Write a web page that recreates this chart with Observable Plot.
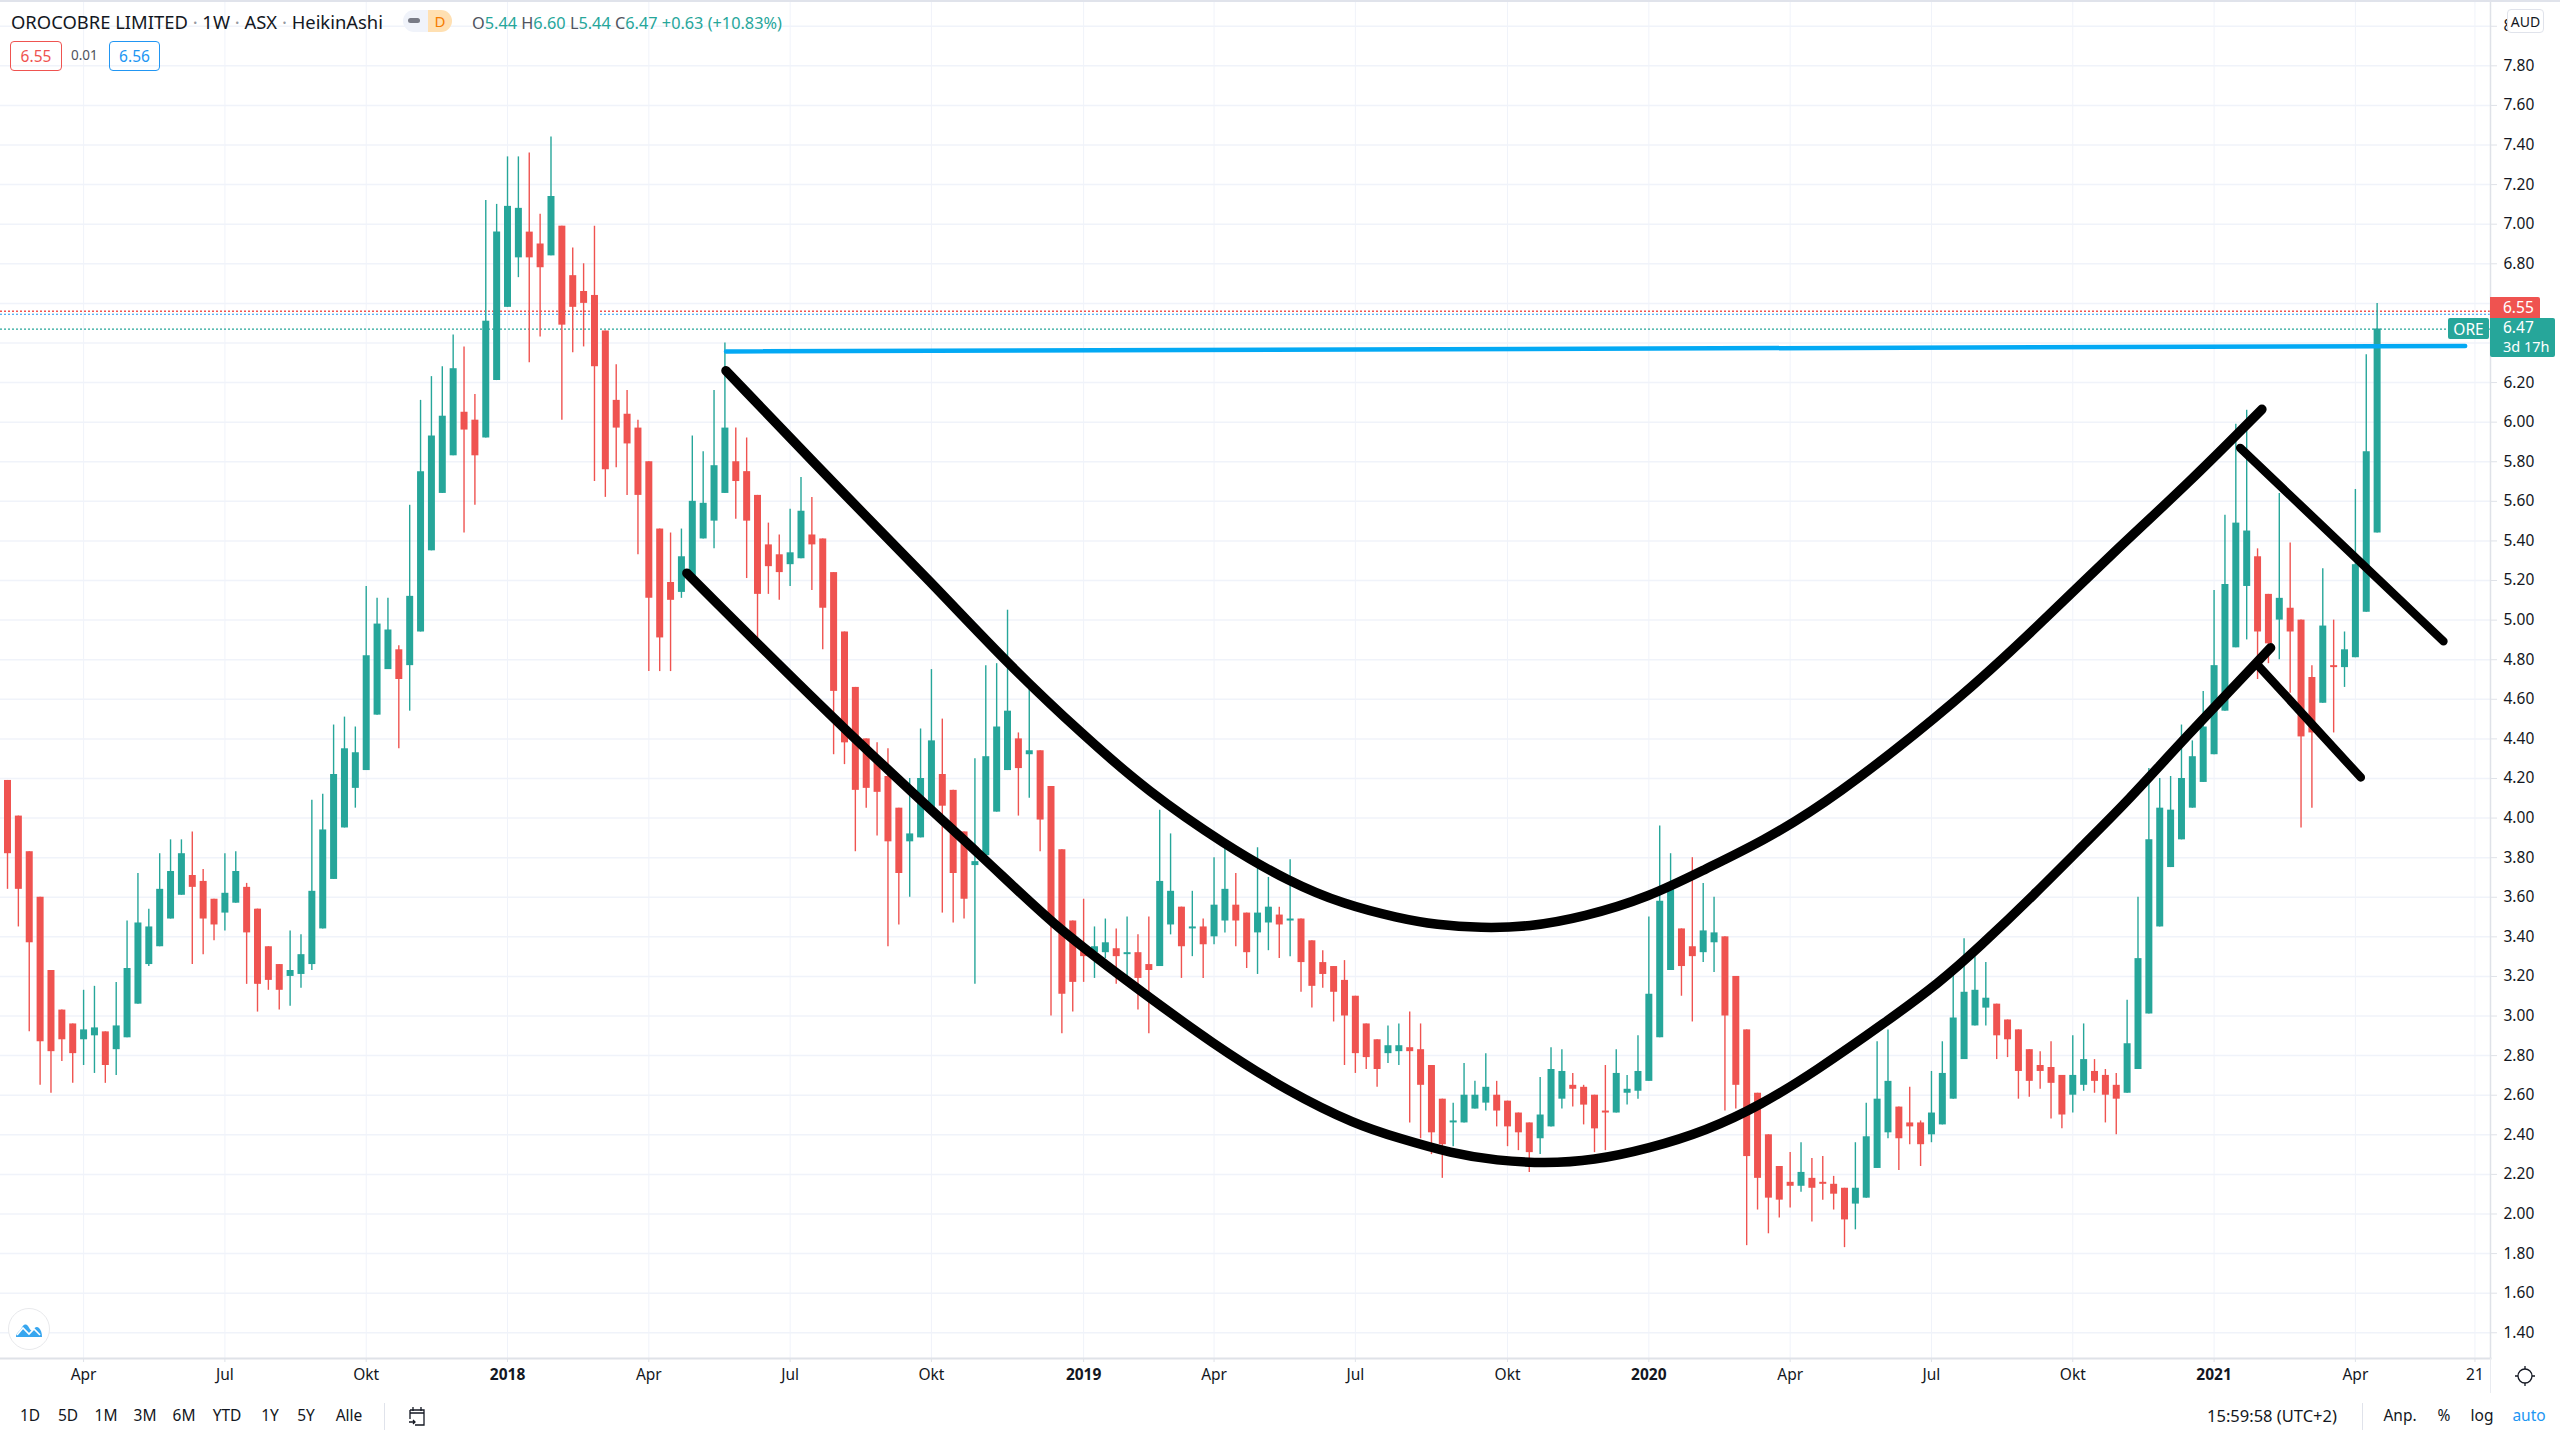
<!DOCTYPE html>
<html>
<head>
<meta charset="utf-8">
<script src="https://cdn.jsdelivr.net/npm/d3@7"></script>
<script src="https://cdn.jsdelivr.net/npm/@observablehq/plot@0.6"></script>
<style>
html,body{margin:0;padding:0;background:#fff;}
#wrap{position:relative;width:2560px;height:1440px;overflow:hidden;font-family:"Noto Sans",sans-serif;color:#131722;}
#wrap svg{display:block;}
.o{position:absolute;white-space:nowrap;line-height:1;}
.box{position:absolute;box-sizing:border-box;display:flex;align-items:center;justify-content:center;}
.c{transform:translateX(-50%);}
</style>
</head>
<body>
<div id="wrap"></div>
<script>
// Weekly Heikin-Ashi candles, one entry per week (AUD)
const rising = [0,0,0,0,0,0,0,1,1,0, 1,1,1,1,1,1,1,0,0,0, 1,1,0,0,0,0,1,1,1,1, 1,1,1,1,1,1,0,1,1,1,
 1,1,0,0,1,1,1,1,0,0, 1,0,0,0,0,0,0,0,0,0, 0,0,1,1,1,1,1,0,0,0, 0,0,1,1,0,0,0,0,0,0,
 0,0,0,1,1,1,0,0,0,1, 1,1,1,0,1,0,0,0,0,0, 1,1,0,1,0,0,1,1,0,1, 0,1,1,0,0,1,1,0,1,0,
 0,0,0,0,0,0,0,1,1,0, 0,0,0,1,1,1,1,0,0,0, 0,1,1,1,0,0,0,0,1,1, 1,1,1,1,0,0,1,1,0,0,
 0,0,0,0,0,1,0,0,0,0, 1,1,1,1,0,0,0,1,1,1, 1,1,1,0,0,0,0,0,0,0, 1,1,0,0,0,1,1,1,1,1,
 1,1,1,1,1,1,1,0,0,1, 0,0,0,1,0,1,1,1,1];
const bodyTop = [4.19,4.01,3.83,3.60,3.23,3.03,2.96,2.93,2.94,2.92, 2.95,3.24,3.47,3.45,3.64,3.73,3.82,3.71,3.68,3.59,
 3.62,3.73,3.65,3.54,3.35,3.26,3.23,3.31,3.63,3.94, 4.22,4.35,4.33,4.82,4.98,4.95,4.85,5.12,5.75,5.93,
 6.03,6.27,6.05,6.01,6.51,6.96,7.09,7.08,6.96,6.90, 7.14,6.99,6.74,6.66,6.64,6.46,6.11,6.04,5.97,5.80,
 5.46,5.19,5.32,5.60,5.59,5.78,5.97,5.80,5.75,5.63, 5.38,5.33,5.34,5.55,5.43,5.41,5.24,4.94,4.66,4.40,
 4.28,4.21,4.05,3.92,4.20,4.39,4.22,4.14,3.93,3.78, 4.31,4.46,4.54,4.40,4.34,4.34,4.16,3.84,3.48,3.34,
 3.35,3.37,3.34,3.32,3.32,3.26,3.68,3.63,3.55,3.45, 3.45,3.56,3.64,3.56,3.52,3.52,3.55,3.51,3.49,3.49,
 3.38,3.27,3.25,3.18,3.10,2.96,2.88,2.85,2.85,2.84, 2.83,2.75,2.58,2.47,2.60,2.60,2.64,2.60,2.57,2.51,
 2.46,2.50,2.73,2.72,2.65,2.64,2.60,2.52,2.71,2.63, 2.72,3.11,3.58,3.64,3.44,3.35,3.43,3.42,3.40,3.20,
 2.93,2.61,2.40,2.24,2.16,2.21,2.18,2.16,2.15,2.13, 2.13,2.39,2.58,2.67,2.54,2.46,2.46,2.51,2.71,2.99,
 3.12,3.13,3.09,3.06,2.98,2.93,2.83,2.75,2.74,2.70, 2.70,2.78,2.72,2.70,2.65,2.86,3.29,3.89,4.05,4.04,
 4.20,4.31,4.46,4.77,5.18,5.49,5.45,5.32,5.13,5.11, 5.06,5.00,4.71,4.97,4.77,4.85,5.28,5.85,6.47];
const bodyBottom = [3.82,3.64,3.37,2.87,2.82,2.88,2.81,2.88,2.90,2.75, 2.83,2.89,3.06,3.26,3.35,3.49,3.61,3.65,3.49,3.46,
 3.52,3.57,3.42,3.16,3.18,3.13,3.20,3.21,3.26,3.44, 3.69,3.95,4.15,4.24,4.52,4.75,4.70,4.77,4.94,5.35,
 5.64,5.83,5.96,5.83,5.92,6.21,6.58,6.83,6.83,6.78, 6.84,6.49,6.58,6.60,6.28,5.76,5.97,5.89,5.63,5.11,
 4.91,5.10,5.14,5.22,5.41,5.50,5.64,5.70,5.50,5.13, 5.27,5.24,5.28,5.31,5.38,5.06,4.64,4.38,4.14,4.15,
 4.13,3.88,3.72,3.88,3.90,4.05,4.06,3.72,3.59,3.76, 3.81,4.03,4.24,4.25,4.32,3.99,3.47,3.11,3.17,3.30,
 3.32,3.32,3.30,3.31,3.19,3.23,3.25,3.46,3.35,3.44, 3.36,3.40,3.48,3.48,3.32,3.42,3.47,3.46,3.48,3.27,
 3.15,3.21,3.12,3.00,2.81,2.79,2.73,2.81,2.82,2.82, 2.65,2.41,2.35,2.46,2.46,2.53,2.56,2.52,2.44,2.41,
 2.31,2.38,2.44,2.58,2.63,2.55,2.43,2.51,2.51,2.61, 2.62,2.67,2.89,3.23,3.25,3.30,3.32,3.37,3.00,2.65,
 2.29,2.18,2.08,2.07,2.14,2.14,2.13,2.15,2.10,1.97, 2.05,2.08,2.23,2.41,2.38,2.44,2.35,2.40,2.45,2.58,
 2.78,2.95,3.04,2.90,2.88,2.72,2.67,2.72,2.66,2.50, 2.60,2.65,2.67,2.60,2.58,2.61,2.73,3.01,3.45,3.75,
 3.89,4.05,4.18,4.32,4.54,4.86,5.17,4.94,4.88,5.00, 4.94,4.41,4.43,4.58,4.76,4.76,4.81,5.04,5.44];
const wickHigh = [4.19,4.01,3.83,3.60,3.23,3.03,2.96,3.13,3.15,2.92, 3.17,3.48,3.72,3.54,3.82,3.89,3.89,3.93,3.74,3.59,
 3.82,3.83,3.67,3.54,3.35,3.26,3.43,3.41,4.09,4.12, 4.47,4.51,4.46,5.17,5.11,5.11,4.87,5.58,6.11,6.23,
 6.28,6.44,6.38,6.14,7.12,7.10,7.34,7.34,7.36,7.05, 7.44,6.99,6.88,6.80,6.99,6.46,6.29,6.16,6.01,5.80,
 5.46,5.44,5.46,5.93,5.85,6.16,6.40,5.97,5.92,5.63, 5.49,5.43,5.56,5.72,5.62,5.41,5.24,4.94,4.66,4.40,
 4.38,4.35,4.05,4.20,4.45,4.75,4.50,4.14,3.93,4.30, 4.77,4.78,5.05,4.43,4.65,4.34,4.16,3.84,3.48,3.59,
 3.45,3.49,3.44,3.50,3.41,3.50,4.04,3.92,3.55,3.63, 3.49,3.80,3.87,3.72,3.52,3.85,3.70,3.55,3.79,3.49,
 3.38,3.33,3.25,3.28,3.10,2.96,2.88,2.95,2.96,3.02, 2.96,2.75,2.58,2.56,2.76,2.67,2.81,2.67,2.57,2.51,
 2.46,2.69,2.84,2.83,2.71,2.65,2.60,2.75,2.83,2.70, 2.90,3.50,3.96,3.82,3.44,3.80,3.67,3.60,3.40,3.20,
 2.93,2.61,2.40,2.24,2.31,2.36,2.28,2.29,2.19,2.13, 2.36,2.56,2.87,2.93,2.54,2.64,2.47,2.72,2.87,3.22,
 3.39,3.30,3.27,3.06,2.98,2.93,2.83,2.82,2.87,2.70, 2.90,2.96,2.78,2.73,2.71,3.08,3.60,4.25,4.20,4.21,
 4.47,4.39,4.64,5.15,5.53,5.99,6.06,5.36,5.13,5.64, 5.39,5.00,4.77,5.26,5.00,4.94,5.66,6.34,6.60];
const wickLow = [3.64,3.45,2.92,2.65,2.61,2.77,2.66,2.75,2.71,2.66, 2.70,2.89,3.06,3.25,3.35,3.49,3.61,3.26,3.31,3.38,
 3.43,3.57,3.16,3.02,3.13,3.03,3.05,3.14,3.23,3.44, 3.69,3.95,4.05,4.24,4.52,4.75,4.35,4.54,4.94,5.35,
 5.64,5.83,5.44,5.58,5.92,6.21,6.58,6.73,6.30,6.43, 6.84,6.01,6.35,6.38,5.70,5.62,5.77,5.63,5.33,4.74,
 4.74,4.74,5.11,5.22,5.41,5.36,5.64,5.51,5.21,4.90, 5.13,5.10,5.17,5.31,5.15,4.85,4.32,4.27,3.83,4.05,
 3.91,3.35,3.46,3.60,3.90,4.05,3.52,3.47,3.49,3.16, 3.81,4.03,4.24,4.01,4.10,3.83,3.00,2.91,3.02,3.17,
 3.19,3.29,3.16,3.18,3.03,2.91,3.25,3.41,3.19,3.30, 3.19,3.36,3.42,3.35,3.24,3.21,3.33,3.29,3.30,3.12,
 3.04,3.14,2.97,2.75,2.71,2.73,2.64,2.76,2.75,2.46, 2.38,2.30,2.18,2.34,2.46,2.53,2.52,2.44,2.34,2.32,
 2.21,2.30,2.44,2.53,2.54,2.45,2.31,2.32,2.51,2.55, 2.58,2.67,2.89,3.23,3.10,2.97,3.27,3.22,2.52,2.53,
 1.84,2.02,1.90,1.98,2.03,2.11,1.96,2.07,2.02,1.83, 1.92,2.08,2.23,2.38,2.22,2.35,2.24,2.36,2.45,2.58,
 2.78,2.95,2.95,2.78,2.79,2.58,2.59,2.63,2.48,2.43, 2.51,2.62,2.61,2.46,2.40,2.61,2.73,3.01,3.45,3.75,
 3.89,4.05,4.18,4.32,4.54,4.86,4.90,4.70,4.78,4.80, 4.63,3.95,4.05,4.58,4.43,4.66,4.81,5.04,5.44];

// Axis ticks (week index of each label)
const monthTicks = [7,20,33,59,72,85,111,124,138,164,177,190,216,227];
const monthLabels = ["Apr","Jul","Okt","Apr","Jul","Okt","Apr","Jul","Okt","Apr","Jul","Okt","Apr","21"];
const yearTicks = [46,99,151,203];
const yearLabels = ["2018","2019","2020","2021"];
const priceTicks = [1.4,1.6,1.8,2.0,2.2,2.4,2.6,2.8,3.0,3.2,3.4,3.6,3.8,4.0,4.2,4.4,4.6,4.8,5.0,5.2,5.4,5.6,5.8,6.0,6.2,6.4,6.6,6.8,7.0,7.2,7.4,7.6,7.8,8.0];
const hiddenPriceLabels = [6.4,6.6]; // covered by the last-price tags in the reference

// Hand-drawn trendlines, read as week index / price pairs
const upperBowlWeek  = [66.1,77.8,85,92,99,104.9,112,118,122.9,127.9,131.5,135.5,140,145,151,156.3,161.3,167.8,179.7,186.7,193.7,200.8,207.4];
const upperBowlPrice = [6.26,5.588,5.19,4.78,4.417,4.135,3.865,3.675,3.565,3.495,3.46,3.445,3.45,3.50,3.60,3.745,3.878,4.089,4.605,4.966,5.34,5.70,6.065];
const lowerBowlWeek  = [62.5,77.8,90.4,96.1,102.9,111.1,117.9,124.1,127.9,132.9,137,141.4,145.9,151,156.3,161.3,166.3,172.8,177.8,181.4,186.4,191.4,195.1,199.9,208.2];
const lowerBowlPrice = [5.237,4.40,3.77,3.465,3.18,2.85,2.616,2.45,2.385,2.305,2.27,2.255,2.27,2.33,2.42,2.55,2.72,2.969,3.171,3.348,3.61,3.887,4.089,4.38,4.86];
const upperHandleWeek = [205.4,224.1];
const upperHandlePrice = [5.87,4.893];
const lowerHandleWeek = [207.1,216.5];
const lowerHandlePrice = [4.768,4.205];
const rimWeek = [66.1,226.1];
const rimPrice = [6.357,6.385];
const bid = 6.56, ask = 6.545, last = 6.47;

const candles = rising.map((r,i)=>({i, dir: r ? "up" : "down", top: bodyTop[i], bottom: bodyBottom[i], high: wickHigh[i], low: wickLow[i]}));
const pts = (w,p)=>w.map((x,k)=>({x, y:p[k]}));
const labelOf = (t,l)=>{const m=new Map(t.map((v,k)=>[v,l[k]]));return d=>m.get(d);};

const UP="#26a69a", DOWN="#ef5350", GRID="#f0f3fa", AXIS="#dfe2e8", INK="#131722", FONT='"Noto Sans",sans-serif';

const chart = Plot.plot({
  width:2560, height:1440,
  marginLeft:0, marginRight:70, marginTop:0, marginBottom:82,
  style:{background:"#fff", fontFamily:FONT},
  x:{type:"linear", domain:[-0.644,228.43]},
  y:{type:"linear", domain:[1.27,8.13]},
  color:{domain:["up","down"], range:[UP,DOWN]},
  marks:[
    Plot.ruleY(priceTicks,{stroke:GRID,strokeWidth:1.5}),
    Plot.ruleX([...monthTicks,...yearTicks],{stroke:GRID,strokeWidth:1}),
    Plot.ruleY([last],{stroke:UP,strokeWidth:1.3,strokeDasharray:"2,2"}),
    Plot.ruleY([ask],{stroke:"#2196f3",strokeWidth:1,strokeDasharray:"2,2"}),
    Plot.ruleY([bid],{stroke:DOWN,strokeWidth:1.5,strokeDasharray:"2,2"}),
    Plot.ruleX(candles,{x:"i",y1:"low",y2:"high",stroke:"dir",strokeWidth:1.4}),
    Plot.ruleX(candles,{x:"i",y1:"bottom",y2:"top",stroke:"dir",strokeWidth:7,strokeLinecap:"butt"}),
    Plot.line(pts(rimWeek,rimPrice),{x:"x",y:"y",stroke:"#03a9f4",strokeWidth:4.5,strokeLinecap:"round"}),
    Plot.line(pts(upperBowlWeek,upperBowlPrice),{x:"x",y:"y",curve:"basis",stroke:"#000",strokeWidth:9.5,strokeLinecap:"round"}),
    Plot.line(pts(lowerBowlWeek,lowerBowlPrice),{x:"x",y:"y",curve:"basis",stroke:"#000",strokeWidth:9.5,strokeLinecap:"round"}),
    Plot.line(pts(upperHandleWeek,upperHandlePrice),{x:"x",y:"y",stroke:"#000",strokeWidth:8.5,strokeLinecap:"round"}),
    Plot.line(pts(lowerHandleWeek,lowerHandlePrice),{x:"x",y:"y",stroke:"#000",strokeWidth:8.5,strokeLinecap:"round"}),
    Plot.frame({anchor:"right",stroke:AXIS,strokeWidth:1.5}),
    Plot.frame({anchor:"bottom",stroke:AXIS,strokeWidth:2}),
    Plot.axisY(priceTicks,{anchor:"right",label:null,tickSize:6,tickPadding:7,stroke:AXIS,fill:INK,fontSize:15.5,tickFormat:d=>hiddenPriceLabels.includes(d)?"":d.toFixed(2)}),
    Plot.axisX(monthTicks,{anchor:"bottom",label:null,tickSize:4,tickPadding:6,stroke:AXIS,fill:INK,fontSize:15.5,tickFormat:labelOf(monthTicks,monthLabels)}),
    Plot.axisX(yearTicks,{anchor:"bottom",label:null,tickSize:4,tickPadding:6,stroke:AXIS,fill:INK,fontSize:15.5,fontWeight:700,tickFormat:labelOf(yearTicks,yearLabels)})
  ]
});
const wrap=document.getElementById("wrap");
wrap.appendChild(chart);

function add(html){const t=document.createElement("template");t.innerHTML=html.trim();wrap.appendChild(t.content.firstChild);}
// top border, axis tail, separators
add(`<div class="o" style="left:0;top:0;width:2560px;height:2px;background:#e0e3eb"></div>`);
add(`<div class="o" style="left:2490px;top:1358px;width:1px;height:35px;background:#e9ebf0"></div>`);
add(`<div class="o" style="left:384px;top:1403px;width:1px;height:27px;background:#e0e3eb"></div>`);
add(`<div class="o" style="left:2362px;top:1403px;width:1px;height:27px;background:#e0e3eb"></div>`);
// legend
add(`<div class="o" style="left:11px;top:13px;font-size:18.4px;color:${INK}">OROCOBRE LIMITED <span style="color:#9598a1">·</span> 1W <span style="color:#9598a1">·</span> ASX <span style="color:#9598a1">·</span> HeikinAshi</div>`);
add(`<div class="o" style="left:403px;top:10px;width:25px;height:22px;background:#f0f3fa;border-radius:11px 0 0 11px"><div style="position:absolute;left:5px;top:8px;width:12px;height:5px;border-radius:3px;background:#787b86"></div></div>`);
add(`<div class="box" style="left:428px;top:10px;width:24px;height:22px;background:#ffe0b2;border-radius:0 11px 11px 0;color:#f57c00;font-size:15px">D</div>`);
add(`<div class="o" style="left:472px;top:15px;font-size:16.3px;color:${UP}"><span style="color:#50535e">O</span>5.44 <span style="color:#50535e">H</span>6.60 <span style="color:#50535e">L</span>5.44 <span style="color:#50535e">C</span>6.47 +0.63 (+10.83%)</div>`);
add(`<div class="box" style="left:10px;top:41px;width:52px;height:30px;border:1px solid ${DOWN};border-radius:4px;color:${DOWN};font-size:15.5px">6.55</div>`);
add(`<div class="o" style="left:71px;top:49px;font-size:13.5px;color:#50535e">0.01</div>`);
add(`<div class="box" style="left:109px;top:41px;width:51px;height:30px;border:1px solid #2196f3;border-radius:4px;color:#2196f3;font-size:15.5px">6.56</div>`);
// price labels
add(`<div class="box" style="left:2507px;top:9px;width:37px;height:24px;background:#fff;border:1px solid #e0e3eb;border-radius:4px;font-size:14px;color:${INK}">AUD</div>`);
add(`<div class="o" style="left:2490px;top:297px;width:50px;height:21px;background:${DOWN};border-radius:0 2px 0 0;color:#fff"><div class="o" style="left:13px;top:3px;font-size:15.5px">6.55</div></div>`);
add(`<div class="o" style="left:2490px;top:318px;width:65px;height:39px;background:${UP};border-radius:0 2px 2px 2px;color:#fff"><div class="o" style="left:13px;top:2px;font-size:15.5px">6.47</div><div class="o" style="left:13px;top:21px;font-size:14.5px">3d 17h</div></div>`);
add(`<div class="box" style="left:2448px;top:318px;width:41px;height:21px;background:${UP};border-radius:2px;color:#fff;font-size:15.5px">ORE</div>`);
// toolbar
[["1D",30],["5D",68],["1M",106],["3M",145],["6M",184],["YTD",227],["1Y",270],["5Y",306],["Alle",349]].forEach(([t,x])=>
  add(`<div class="o c" style="left:${x}px;top:1408px;font-size:15.5px">${t}</div>`));
[["15:59:58 (UTC+2)",2272,INK,16.5],["Anp.",2400,INK,15.5],["%",2444,INK,15.5],["log",2482,INK,15.5],["auto",2529,"#2196f3",15.5]].forEach(([t,x,c,s])=>
  add(`<div class="o c" style="left:${x}px;top:1408px;font-size:${s}px;color:${c}">${t}</div>`));
// calendar, settings, logo glyphs
add(`<svg class="o" style="left:407px;top:1405px" width="20" height="22" viewBox="0 0 20 22" fill="none" stroke="${INK}" stroke-width="1.3"><path d="M3 5h14v15H8M3 5v9M6 2v4M14 2v4M3 8h14M2 17h6M6 15l2 2-2 2"/></svg>`);
add(`<svg class="o" style="left:2514px;top:1365px" width="22" height="22" viewBox="0 0 22 22" fill="none" stroke="${INK}" stroke-width="1.3"><circle cx="11" cy="11" r="7"/><path d="M11 1v3M11 18v3M1 11h3M18 11h3"/></svg>`);
add(`<svg class="o" style="left:8px;top:1308px" width="42" height="42" viewBox="0 0 42 42"><circle cx="21" cy="21" r="20.5" fill="#fff" stroke="#e8e9ec"/><path d="M8 29c0-4 3-5 5-8 2-4 4-6 7-3 2 3 3 6 5 4 2-3 4-4 6-2 2 2 3 5 3 9H8z" fill="#37a6ef"/><path d="M9 27l6-7 6 6 5-5 6 6" fill="none" stroke="#fff" stroke-width="1.6"/></svg>`);
</script>
</body>
</html>
